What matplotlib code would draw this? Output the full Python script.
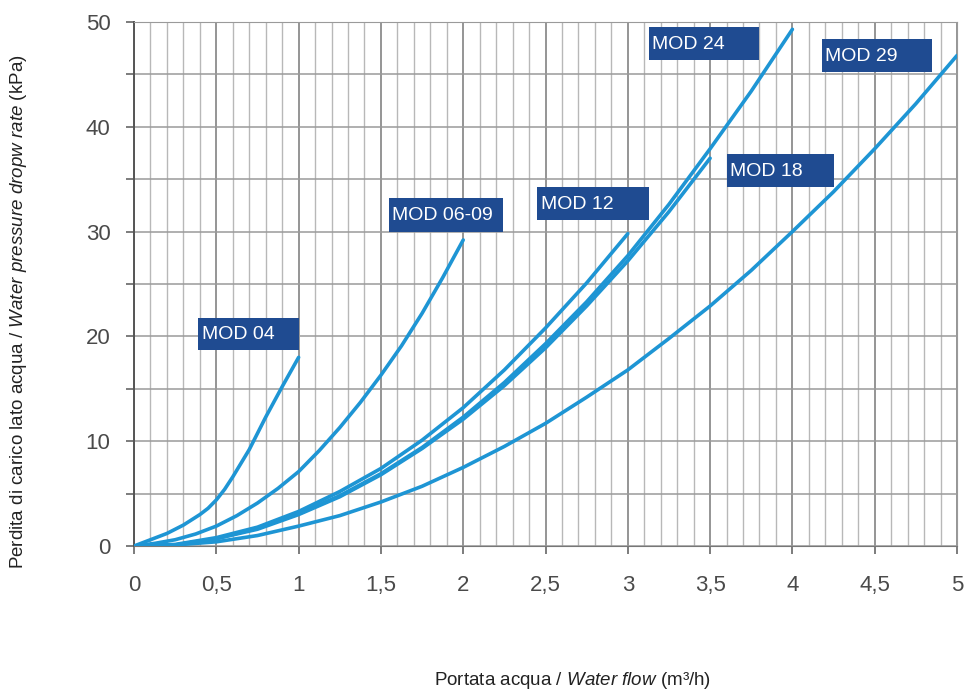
import matplotlib.pyplot as plt
import numpy as np
from matplotlib.patches import Rectangle
from matplotlib import font_manager

plt.rcParams['font.family'] = ['Liberation Sans', 'DejaVu Sans']
plt.rcParams['mathtext.fontset'] = 'custom'
plt.rcParams['mathtext.rm'] = 'Liberation Sans'
plt.rcParams['mathtext.it'] = 'Liberation Sans:italic'

# flow (m3/h) and pressure drop (kPa)
x_04 = [0, 0.1, 0.2, 0.3, 0.35, 0.4, 0.45, 0.5, 0.55, 0.6, 0.7, 0.8, 0.9, 1.0]
y_04 = [0, 0.6, 1.2, 2.0, 2.5, 3.0, 3.6, 4.4, 5.4, 6.6, 9.2, 12.3, 15.2, 18.0]

x_0609 = [0, 0.125, 0.25, 0.375, 0.5, 0.625, 0.75, 0.875, 1.0, 1.125, 1.25,
          1.375, 1.5, 1.625, 1.75, 1.875, 2.0]
y_0609 = [0, 0.25, 0.6, 1.15, 1.9, 2.9, 4.1, 5.5, 7.1, 9.1, 11.3, 13.7, 16.3,
          19.1, 22.2, 25.6, 29.2]

x_12 = [0, 0.25, 0.5, 0.75, 1.0, 1.25, 1.5, 1.75, 2.0, 2.25, 2.5, 2.75, 3.0]
y_12 = [0, 0.15, 0.8, 1.8, 3.3, 5.2, 7.4, 10.1, 13.2, 16.8, 20.8, 25.1, 29.8]

x_18 = [0, 0.25, 0.5, 0.75, 1.0, 1.25, 1.5, 1.75, 2.0, 2.25, 2.5, 2.75, 3.0,
        3.25, 3.5]
y_18 = [0, 0.1, 0.7, 1.6, 3.0, 4.7, 6.8, 9.3, 12.1, 15.3, 18.9, 22.9, 27.2,
        31.9, 37.0]

x_24 = [0, 0.25, 0.5, 0.75, 1.0, 1.25, 1.5, 1.75, 2.0, 2.25, 2.5, 2.75, 3.0,
        3.25, 3.5, 3.75, 4.0]
y_24 = [0, 0.1, 0.7, 1.7, 3.1, 4.8, 6.9, 9.4, 12.3, 15.6, 19.3, 23.3, 27.7,
        32.6, 37.9, 43.4, 49.3]

x_29 = [0, 0.25, 0.5, 0.75, 1.0, 1.25, 1.5, 1.75, 2.0, 2.25, 2.5, 2.75, 3.0,
        3.25, 3.5, 3.75, 4.0, 4.25, 4.5, 4.75, 5.0]
y_29 = [0, 0.1, 0.4, 1.0, 1.9, 2.9, 4.2, 5.7, 7.5, 9.5, 11.7, 14.2, 16.8,
        19.8, 22.9, 26.3, 30.0, 33.8, 37.9, 42.2, 46.8]

labels = ["MOD 04", "MOD 06-09", "MOD 12", "MOD 18", "MOD 24", "MOD 29"]
# label boxes: left x, bottom y, width, height (data units)
boxes = [(0.39, 18.7, 0.61, 3.1),
         (1.55, 30.0, 0.69, 3.2),
         (2.45, 31.1, 0.68, 3.2),
         (3.60, 34.3, 0.65, 3.1),
         (3.13, 46.4, 0.67, 3.1),
         (4.18, 45.2, 0.67, 3.2)]

line_col = '#1e95d4'
box_col = '#1f4b91'

# condensed face for the box labels if available
names = {f.name for f in font_manager.fontManager.ttflist}
if 'Liberation Sans Narrow' in names:
    box_font, box_size = ['Liberation Sans Narrow', 'DejaVu Sans'], 17.5
else:
    box_font, box_size = ['Liberation Sans', 'DejaVu Sans'], 14

fig = plt.figure(figsize=(9.65, 6.93), dpi=100)
ax = fig.add_axes([0.1389, 0.2121, 0.8528, 0.7562])

for xs, ys in [(x_04, y_04), (x_0609, y_0609), (x_12, y_12),
               (x_18, y_18), (x_24, y_24), (x_29, y_29)]:
    ax.plot(xs, ys, color=line_col, linewidth=2.6, solid_capstyle='round',
            solid_joinstyle='round', zorder=3)

for lab, (bx, by, bw, bh) in zip(labels, boxes):
    ax.add_patch(Rectangle((bx, by), bw, bh, facecolor=box_col,
                           edgecolor='none', zorder=4))
    ax.text(bx + 0.02, by + bh / 2 - 0.1, lab, color='white',
            fontsize=box_size, family=box_font,
            va='center', ha='left', zorder=5)

ax.set_xlim(0, 5)
ax.set_ylim(0, 50)
ax.set_xticks(np.arange(0, 5.01, 0.5))
ax.set_xticks(np.arange(0, 5.01, 0.1), minor=True)
ax.set_yticks(np.arange(0, 51, 10))
ax.set_yticks(np.arange(0, 51, 5), minor=True)
ax.set_xticklabels(['0', '0,5', '1', '1,5', '2', '2,5', '3', '3,5', '4',
                    '4,5', '5'])

ax.grid(which='major', axis='x', color='#8c8c8c', linewidth=1.3)
ax.grid(which='minor', axis='x', color='#b8b8b8', linewidth=1.0)
ax.grid(which='both', axis='y', color='#9a9a9a', linewidth=1.1)
ax.set_axisbelow(True)

ax.tick_params(axis='both', which='major', labelsize=16, labelcolor='#4a4a4a',
               color='#666666', width=1.2, length=6)
ax.tick_params(axis='y', which='minor', color='#666666', width=1.2, length=6)
ax.tick_params(axis='x', which='minor', length=0)
ax.tick_params(axis='x', which='major', pad=15)
ax.tick_params(axis='y', which='major', pad=11)

for side in ['top', 'right']:
    ax.spines[side].set_color('#9a9a9a')
ax.spines['left'].set_color('#555555')
ax.spines['left'].set_linewidth(1.4)
ax.spines['bottom'].set_color('#777777')

fig.text(0.593, 0.003, r'Portata acqua / $\it{Water\ flow}$ (m³/h)',
         ha='center', va='bottom', fontsize=13.5, color='#222222')
fig.text(0.019, 0.55,
         r'Perdita di carico lato acqua / $\it{Water\ pressure\ dropw\ rate}$ (kPa)',
         rotation=90, ha='center', va='center', fontsize=13.5, color='#222222')

fig.savefig('out.png', dpi=100)
